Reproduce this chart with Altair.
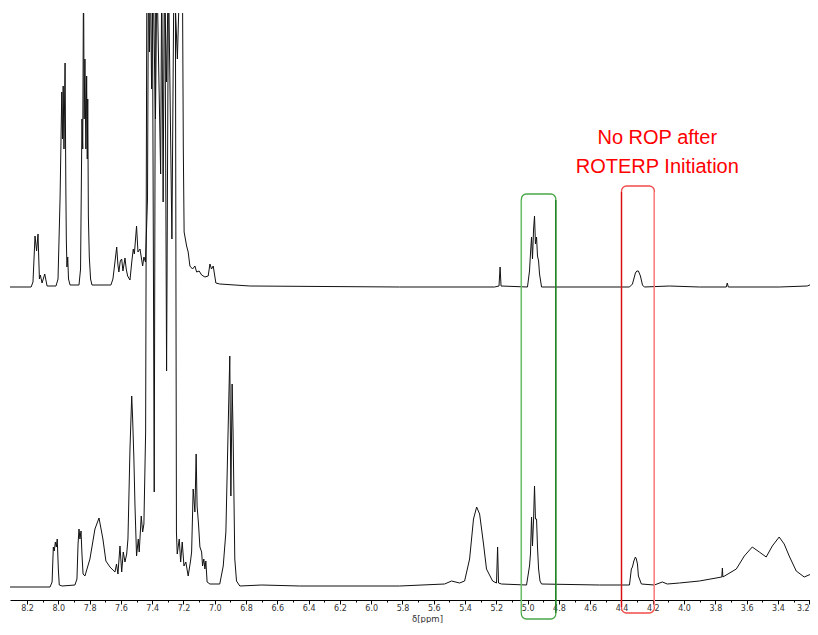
import altair as alt
import pandas as pd

# ---- Upper trace (after ROTERP initiation): chemical shift (ppm) and intensity (a.u.)
top_ppm = [8.309, 8.174, 8.162, 8.149, 8.139, 8.130, 8.121, 8.115, 8.104, 8.087, 8.072,
           8.015, 8.002, 7.989, 7.978, 7.973, 7.969, 7.964, 7.957, 7.952, 7.949, 7.945,
           7.940, 7.935, 7.925, 7.868, 7.858, 7.849, 7.844, 7.839, 7.835, 7.830, 7.824,
           7.819, 7.815, 7.812, 7.808, 7.802, 7.794, 7.785, 7.664, 7.651, 7.638, 7.627,
           7.619, 7.613, 7.604, 7.595, 7.587, 7.574, 7.566, 7.557, 7.542, 7.530, 7.521,
           7.514, 7.500, 7.491, 7.478, 7.461, 7.453, 7.443, 7.430, 7.424, 7.418, 7.411,
           7.404, 7.395, 7.379, 7.370, 7.346, 7.339, 7.330, 7.322, 7.309, 7.296, 7.274,
           7.261, 7.239, 7.223, 7.207, 7.201, 7.196, 7.180, 7.170, 7.159, 7.142, 7.127,
           7.116, 7.100, 7.084, 7.063, 7.042, 7.031, 7.021, 7.010, 6.993, 6.968, 6.776,
           5.818, 5.212, 5.183, 5.176, 5.170, 5.001, 4.988, 4.982, 4.975, 4.969, 4.962,
           4.956, 4.950, 4.943, 4.937, 4.930, 4.924, 4.911, 4.349, 4.330, 4.311, 4.302,
           4.292, 4.279, 4.266, 4.254, 4.094, 3.902, 3.730, 3.724, 3.717, 3.392, 3.213,
           3.181, 3.149]
top_int = [0, 0, 5, 51, 36, 53, 8, 12, 4, 13, 1,
           1, 8, 88, 195, 148, 201, 138, 224, 98, 48, 20,
           30, 8, 2, 2, 18, 168, 138, 318, 168, 228, 138,
           211, 128, 188, 71, 30, 8, 2, 2, 8, 25, 40,
           22, 15, 26, 28, 16, 29, 18, 11, 7, 26, 38,
           33, 61, 35, 38, 21, 30, 25, 88, 318, 235, 318,
           198, 318, 168, 318, 113, 318, 85, 318, 205, 318, 48,
           318, 228, 318, 318, 138, 55, 41, 35, 21, 18, 21,
           15, 16, 12, 10, 11, 23, 18, 21, 4, 3, 1,
           0, 0, 1, 20, 1, 0, 16, 33, 50, 28, 58,
           71, 43, 50, 31, 26, 13, 0, 0, 3, 14, 16,
           16, 11, 2, 0, 1, 0, 0, 4, 0, 0, 1,
           3, 1]

# ---- Lower trace (reference): chemical shift (ppm) and intensity (a.u.)
bot_ppm = [8.309, 8.053, 8.040, 8.032, 8.026, 8.019, 8.013, 8.007, 8.000, 7.994, 7.976,
           7.894, 7.881, 7.874, 7.868, 7.862, 7.855, 7.849, 7.842, 7.830, 7.798, 7.766,
           7.740, 7.715, 7.696, 7.670, 7.651, 7.638, 7.628, 7.619, 7.606, 7.595, 7.585,
           7.574, 7.563, 7.555, 7.542, 7.531, 7.525, 7.517, 7.510, 7.500, 7.489, 7.483,
           7.470, 7.461, 7.453, 7.442, 7.434, 7.414, 7.399, 7.387, 7.379, 7.351, 7.319,
           7.308, 7.296, 7.274, 7.252, 7.245, 7.240, 7.227, 7.218, 7.208, 7.197, 7.185,
           7.170, 7.155, 7.148, 7.138, 7.127, 7.119, 7.113, 7.104, 7.095, 7.084, 7.078,
           7.070, 7.063, 7.057, 7.049, 7.031, 6.968, 6.946, 6.929, 6.915, 6.904, 6.897,
           6.889, 6.883, 6.872, 6.861, 6.840, 6.699, 6.457, 5.818, 5.531, 5.486, 5.435,
           5.403, 5.371, 5.346, 5.326, 5.307, 5.282, 5.263, 5.224, 5.199, 5.192, 5.186,
           5.167, 5.007, 4.988, 4.982, 4.975, 4.969, 4.962, 4.956, 4.950, 4.943, 4.937,
           4.930, 4.921, 4.911, 4.541, 4.349, 4.337, 4.330, 4.321, 4.311, 4.305, 4.298,
           4.292, 4.273, 4.190, 4.139, 4.107, 4.030, 3.902, 3.759, 3.755, 3.752, 3.666,
           3.615, 3.564, 3.519, 3.475, 3.436, 3.392, 3.360, 3.328, 3.283, 3.232, 3.187,
           3.149]
bot_int = [0, 0, 5, 40, 36, 45, 40, 48, 18, 2, 1,
           2, 8, 43, 58, 48, 56, 33, 13, 11, 28, 58,
           69, 48, 26, 20, 17, 15, 23, 13, 41, 15, 35,
           25, 33, 48, 138, 191, 168, 128, 81, 31, 48, 35,
           71, 55, 63, 155, 618, 618, 618, 95, 618, 618, 618,
           216, 618, 618, 618, 55, 33, 48, 25, 45, 21, 25,
           11, 26, 35, 98, 75, 133, 81, 63, 40, 35, 21,
           28, 18, 26, 5, 3, 3, 21, 55, 155, 231, 91,
           203, 155, 28, 6, 1, 2, 1, 1, 3, 6, 4,
           6, 28, 68, 80, 73, 43, 18, 6, 4, 40, 4,
           3, 2, 21, 33, 70, 41, 68, 101, 68, 68, 40,
           18, 6, 3, 2, 2, 18, 20, 26, 30, 28, 23,
           11, 3, 2, 5, 3, 4, 6, 10, 19, 10, 18,
           31, 40, 35, 30, 41, 50, 43, 31, 16, 10, 13,
           11]

# vertical stacking offsets of the two traces (a.u.)
TOP_OFFSET = 317
BOT_OFFSET = 17
Y_MIN = 4
Y_MAX = 591

# visible chemical-shift window (ppm)
X_LEFT = 8.309
X_RIGHT = 3.195

# axis ticks (ppm); labels on every second one
tick_values = [8.2, 8.1, 8.0, 7.9, 7.8, 7.7, 7.6, 7.5, 7.4, 7.3, 7.2, 7.1, 7.0, 6.9, 6.8,
               6.7, 6.6, 6.5, 6.4, 6.3, 6.2, 6.1, 6.0, 5.9, 5.8, 5.7, 5.6, 5.5, 5.4, 5.3,
               5.2, 5.1, 5.0, 4.9, 4.8, 4.7, 4.6, 4.5, 4.4, 4.3, 4.2, 4.1, 4.0, 3.9, 3.8,
               3.7, 3.6, 3.5, 3.4, 3.3, 3.2]

# highlight boxes
box_left = [5.04, 4.40]
box_right = [4.82, 4.19]
box_top = [410, 418]
box_bottom = [-15, -9]
box_stroke = ["#48a648", "#f24a4a"]
box_left_edge = ["#6cc06c", "#d81010"]
box_right_edge = ["#1c7a1c", "#ff8080"]

note_lines = ["No ROP after", "ROTERP Initiation"]
note_ppm = [4.171, 4.171]
note_y = [466, 437]

spec = pd.concat([
    pd.DataFrame({"ppm": top_ppm, "y": [TOP_OFFSET + v for v in top_int], "trace": "top"}),
    pd.DataFrame({"ppm": bot_ppm, "y": [BOT_OFFSET + v for v in bot_int], "trace": "bottom"}),
])
boxes = pd.DataFrame({"x1": box_left, "x2": box_right, "y1": box_top, "y2": box_bottom,
                      "c": box_stroke})
edges = pd.DataFrame({
    "x": box_left + box_right,
    "y1": [t - 6 for t in box_top] * 2,
    "y2": [b + 6 for b in box_bottom] * 2,
    "c": box_left_edge + box_right_edge,
})
notes = pd.DataFrame({"t": note_lines, "x": note_ppm, "y": note_y})

xs = alt.Scale(domain=[X_LEFT, X_RIGHT], nice=False, zero=False)
ys = alt.Scale(domain=[Y_MIN, Y_MAX], nice=False, zero=False)

even = "abs(round(datum.value * 10)) % 2 == 0"
x_axis = alt.Axis(
    values=tick_values,
    tickCount=200,
    labelExpr=f"{even} ? format(datum.value, '.1f') : ''",
    tickSize={"condition": {"test": even, "value": 4}, "value": 2},
    grid=False,
    domainColor="#000", domainWidth=1,
    tickColor="#000", tickWidth=1,
    labelFont="DejaVu Sans", labelFontSize=8, labelColor="#333",
    labelPadding=0, labelFlush=2, labelOverlap=False, labelBound=False,
    title="δ[ppm]", titleFont="DejaVu Sans", titleFontSize=8.5, titleFontWeight="normal",
    titleColor="#333", titleX=417, titleY=18, titleAlign="center",
    titleBaseline="middle",
)

lines = alt.Chart(spec).mark_line(clip=True, color="#111", strokeWidth=1).encode(
    x=alt.X("ppm:Q", scale=xs, axis=x_axis),
    y=alt.Y("y:Q", scale=ys, axis=None),
    detail="trace:N",
)

rects = alt.Chart(boxes).mark_rect(fillOpacity=0, strokeWidth=1.3, cornerRadius=5,
                                   clip=False).encode(
    x=alt.X("x1:Q", scale=xs), x2="x2:Q",
    y=alt.Y("y1:Q", scale=ys), y2="y2:Q",
    stroke=alt.Color("c:N", scale=None),
)

sides = alt.Chart(edges).mark_rule(strokeWidth=1.3, clip=False).encode(
    x=alt.X("x:Q", scale=xs),
    y=alt.Y("y1:Q", scale=ys), y2="y2:Q",
    color=alt.Color("c:N", scale=None),
)

text = alt.Chart(notes).mark_text(font="Liberation Sans", fontSize=20, color="#ff0000",
                                  align="center", baseline="middle").encode(
    x=alt.X("x:Q", scale=xs),
    y=alt.Y("y:Q", scale=ys),
    text="t:N",
)

chart = alt.layer(lines, rects, sides, text).properties(
    width=800, height=587,
    padding={"left": 2, "top": 5, "right": 0, "bottom": 23},
    autosize=alt.AutoSizeParams(type="none"),
).configure_view(stroke=None)

chart.save("out.html", embed_options={"renderer": "svg", "actions": False})
